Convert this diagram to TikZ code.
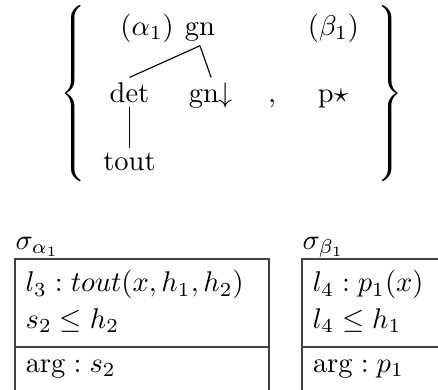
\documentclass[tikz,border=0pt]{standalone}
\usepackage{amsmath}
\usetikzlibrary{positioning}
\tikzset{
  lab/.style={anchor=base, inner sep=1.5pt},
  branch/.style={line width=0.4pt},
  bracenode/.style={inner sep=0pt},
  row/.style={anchor=base west, inner sep=0pt, font=\fontsize{10.3}{13}\selectfont},
  frame/.style={draw=black!75, line width=0.5pt}
}

\begin{document}
\begin{tikzpicture}

  \useasboundingbox (0,0) rectangle (5.40,-4.80);
  \clip (0,0) rectangle (5.40,-4.80);

  % -------------------------------------------------------------------
  % elementary trees
  % -------------------------------------------------------------------
  \node[bracenode] (lbrace) at (0.919,-1.153)
    {\scalebox{1}[0.94]{${\left\{\vcenter to 66pt{}\right.}$}};
  \node[bracenode] (rbrace) at (4.790,-1.153)
    {\scalebox{1}[0.94]{${\left.\vcenter to 66pt{}\right\}}$}};

  \node[lab] (aname) at (1.813,-0.432) {$(\alpha_1)$};
  \node[lab] (gnroot) at (2.466,-0.432) {gn};
  \node[lab] (det) at (1.597,-1.258) {det};
  \node[lab] (gnsub) at (2.602,-1.258) {gn$\downarrow$};
  \node[lab] (tout) at (1.597,-2.096) {tout};
  \node[lab] (comma) at (3.354,-1.258) {,};
  \node[lab] (bname) at (4.112,-0.432) {$(\beta_1)$};
  \node[lab] (pstar) at (4.106,-1.258) {p$\star$};

  \draw[branch] (gnroot.south) -- (det.north);
  \draw[branch] (gnroot.south) -- (gnsub.north);
  \draw[branch] (det.south) -- (tout.north);

  % -------------------------------------------------------------------
  % semantic representations
  % -------------------------------------------------------------------
  \node[row] (salpha) at (0.185,-3.075) {$\sigma_{\alpha_1}$};
  \draw[frame] (0.185,-5.0) |- (3.317,-3.193) -- (3.317,-5.0);
  \draw[frame] (0.185,-4.279) -- (3.317,-4.279);
  \node[row] (arow1) at (0.310,-3.600) {$l_3 : tout(x,h_1,h_2)$};
  \node[row] (arow2) at (0.310,-4.044) {$s_2 \leq h_2$};
  \node[row] (aarg) at (0.310,-4.587) {$\arg : s_2$};

  \node[row] (sbeta) at (3.724,-3.075) {$\sigma_{\beta_1}$};
  \draw[frame] (3.724,-5.0) |- (6.0,-3.193);
  \draw[frame] (3.724,-4.279) -- (6.0,-4.279);
  \node[row] (brow1) at (3.850,-3.600) {$l_4 : p_1(x)$};
  \node[row] (brow2) at (3.850,-4.044) {$l_4 \leq h_1$};
  \node[row] (barg) at (3.850,-4.587) {$\arg : p_1$};

\end{tikzpicture}
\end{document}
